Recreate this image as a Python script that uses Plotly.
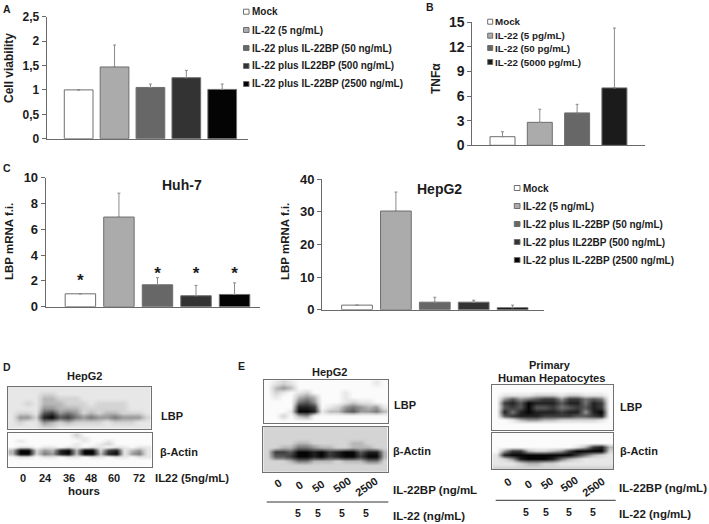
import plotly.graph_objects as go

W, H = 709, 524
FONT = "Liberation Sans"
TXT = "#1c1c1c"

# ---- data ----
cats_a = ["Mock", "IL-22 (5 ng/mL)", "IL-22 plus IL-22BP (50 ng/mL)", "IL-22 plus IL22BP (500 ng/mL)", "IL-22 plus IL-22BP (2500 ng/mL)"]
vals_a = [1.0, 1.47, 1.05, 1.25, 1.01]
errs_a = [0, 0.45, 0.07, 0.15, 0.11]
ticks_a = [0, 0.5, 1, 1.5, 2, 2.5]
ticklabels_a = ["0", "0,5", "1", "1,5", "2", "2,5"]

cats_b = ["Mock", "IL-22 (5 pg/mL)", "IL-22 (50 pg/mL)", "IL-22 (5000 pg/mL)"]
vals_b = [1.05, 2.8, 3.95, 7.0]
errs_b = [0.6, 1.6, 1.05, 7.3]
ticks_b = [0, 3, 6, 9, 12, 15]

cats_c = ["Mock", "IL-22 (5 ng/mL)", "IL-22 plus IL-22BP (50 ng/mL)", "IL-22 plus IL22BP (500 ng/mL)", "IL-22 plus IL-22BP (2500 ng/mL)"]
vals_huh7 = [1.0, 6.95, 1.7, 0.85, 0.95]
errs_huh7 = [0, 1.85, 0.55, 0.8, 0.9]
ticks_huh7 = [0, 2, 4, 6, 8, 10]
star_idx = [0, 2, 3, 4]
star_y = [1.9, 2.45, 2.45, 2.45]

vals_hepg2 = [1.4, 30.2, 2.3, 2.3, 0.6]
errs_hepg2 = [0, 5.8, 1.5, 0.6, 0.8]
ticks_hepg2 = [0, 10, 20, 30, 40]

# blots: darkness 0-9, one string per row, top row first
blot_d_lbp = [
    "111111111111111111",
    "111122111111111111",
    "111133222111111111",
    "112133322212222111",
    "111144333222222111",
    "122167454232332221",
    "144289675454454442",
    "121143232222122211",
    "111122111111111111",
]
blot_d_actin = [
    "000000002000000000",
    "000000001100000000",
    "010000000100100000",
    "000000001001200000",
    "011011011011011011",
    "399243893992781341",
    "399254893993891451",
    "011011011011011011",
    "000000000000000000",
    "000000000000000000",
    "000000000000000000",
]
blot_e1_lbp = [
    "0121000000000010",
    "0343000000000000",
    "0210120000100000",
    "0100343000100000",
    "0000564000121100",
    "0000887012454341",
    "0001998133564453",
    "0020340000000000",
    "0000000000000000",
]
blot_e1_actin = [
    "2222222222222222",
    "2222222222222222",
    "2222222222222222",
    "2222332222233222",
    "2233554332233322",
    "2776998978996883",
    "2667998978997993",
    "2223553332333552",
    "2222222222222222",
    "2222222222222222",
]
blot_e2_lbp = [
    "000000000000000",
    "000000000000000",
    "011112221221110",
    "046456774775650",
    "078698886885870",
    "067696675676870",
    "085898887884890",
    "067888777766780",
    "001344332222210",
    "000000000000000",
    "000000000000000",
]
blot_e2_actin = [
    "000000000000000",
    "000000000000000",
    "000000000000000",
    "000000000013783",
    "047732234799992",
    "189999999975321",
    "124899985321111",
    "111233221111111",
    "222222222222222",
]
lanes_d = ["0", "24", "36", "48", "60", "72"]
lanes_bp = ["0", "0", "50", "500", "2500"]
lanes_il = ["5", "5", "5", "5"]

fills5 = ["#ffffff", "#ababab", "#676767", "#333333", "#040404"]
fills4 = ["#ffffff", "#ababab", "#676767", "#1b1b1b"]
BORDER = "#6e6e6e"
ERR = "#8a8a8a"
AXIS = "#6a6a6a"


def dx(l, r):
    return [l / W, r / W]


def dy(t, b):
    return [1 - b / H, 1 - t / H]


fig = go.Figure()
layout = dict(
    width=W, height=H, margin=dict(l=0, r=0, t=0, b=0, autoexpand=False),
    paper_bgcolor="white", plot_bgcolor="white", showlegend=False,
    font=dict(family=FONT, color=TXT), bargap=0.2,
)
anns, shapes = [], []


def txt(x, y, s, size=10, anchor="left", angle=0, color=TXT):
    anns.append(dict(text="<b>%s</b>" % s, x=x / W, y=1 - y / H, xref="paper", yref="paper",
                     xanchor=anchor, yanchor="middle", showarrow=False, textangle=angle,
                     font=dict(family=FONT, size=size, color=color), borderpad=0, borderwidth=0))


def bars(n, left, right, top, bottom, xr, vals, errs, fills, gap, tickv, tickt, tsize, ymax,
         title, title_x, title_y, tit_size=12):
    k = "" if n == 1 else str(n)
    fig.add_trace(go.Bar(x=list(range(len(vals))), y=vals, width=gap, xaxis="x" + k, yaxis="y" + k,
                         marker=dict(color=fills, line=dict(color=BORDER, width=1)),
                         error_y=dict(type="data", symmetric=False, array=errs, arrayminus=[0] * len(vals),
                                      color=ERR, thickness=1, width=1.5)))
    layout["xaxis" + k] = dict(domain=dx(left, right), range=xr, anchor="y" + k, showgrid=False, zeroline=False,
                               showline=True, linecolor=AXIS, linewidth=1, ticks="", showticklabels=False, fixedrange=True)
    layout["yaxis" + k] = dict(domain=dy(top, bottom), range=[0, ymax], anchor="x" + k, showgrid=False, zeroline=False,
                               showline=True, linecolor=AXIS, linewidth=1, ticks="outside", ticklen=4, tickcolor=AXIS,
                               tickvals=tickv, ticktext=["<b>%s</b>" % t for t in tickt],
                               tickfont=dict(family=FONT, size=tsize, color=TXT), fixedrange=True)
    txt(title_x, title_y, title, tit_size, "center", -90)


bars(1, 46.7, 247.7, 16.7, 138.7, [-0.89, 4.71], vals_a, errs_a, fills5, 0.8, ticks_a, ticklabels_a, 12, 2.5,
     "Cell viability", 9, 68)
bars(2, 472.3, 645, 22.3, 145.3, [-0.81, 3.82], vals_b, errs_b, fills4, 0.67, ticks_b, ticks_b, 14, 15,
     "TNF\u03b1", 436, 79)
bars(3, 45.7, 260, 177.7, 306.7, [-0.9, 4.66], vals_huh7, errs_huh7, fills5, 0.79, ticks_huh7, ticks_huh7, 13, 10,
     "LBP mRNA f.i.", 9, 242, 11.5)
bars(4, 322, 543.7, 179, 309.7, [-0.9, 4.8], vals_hepg2, errs_hepg2, fills5, 0.79, ticks_hepg2, ticks_hepg2, 13, 40,
     "LBP mRNA f.i.", 285, 242, 11.5)

fig.add_trace(go.Scatter(x=star_idx, y=star_y, mode="text", text=["<b>*</b>"] * len(star_idx), xaxis="x3", yaxis="y3",
                         textposition="middle center", textfont=dict(family=FONT, size=17, color=TXT)))

BLOT_SCALE = [[0, "#fbfbfb"], [0.25, "#cfcfcf"], [0.6, "#6a6a6a"], [1, "#050505"]]


def blot(n, rows, left, right, top, bottom):
    k = str(n)
    z = [[int(c) for c in r] for r in rows]
    fig.add_trace(go.Heatmap(z=z, xaxis="x" + k, yaxis="y" + k, zmin=0, zmax=9, zsmooth="best",
                             colorscale=BLOT_SCALE, showscale=False, hoverinfo="skip"))
    layout["xaxis" + k] = dict(domain=dx(left, right), range=[-0.5, len(z[0]) - 0.5], anchor="y" + k, showgrid=False,
                               zeroline=False, showline=True, mirror=True, linecolor="#707070", linewidth=1,
                               ticks="", showticklabels=False, fixedrange=True)
    layout["yaxis" + k] = dict(domain=dy(top, bottom), range=[len(z) - 0.5, -0.5], anchor="x" + k, showgrid=False,
                               zeroline=False, showline=True, mirror=True, linecolor="#707070", linewidth=1,
                               ticks="", showticklabels=False, fixedrange=True)


blot(5, blot_d_lbp, 7.7, 150.7, 386.7, 429)
blot(6, blot_d_actin, 8.3, 151.7, 433.3, 467.3)
blot(7, blot_e1_lbp, 263.7, 387.7, 380.3, 423.3)
blot(8, blot_e1_actin, 263.3, 387.7, 426.7, 472)
blot(9, blot_e2_lbp, 492.3, 613.3, 384.7, 429.7)
blot(10, blot_e2_actin, 492.3, 613.3, 432.7, 469.3)


def legend(labels, fills, xm0, xm1, xt, ys, size):
    for s, f, y in zip(labels, fills, ys):
        shapes.append(dict(type="rect", xref="paper", yref="paper", x0=xm0 / W, x1=xm1 / W,
                           y0=1 - (y + 2.5) / H, y1=1 - (y - 2.5) / H, fillcolor=f,
                           line=dict(color=BORDER, width=1)))
        txt(xt, y, s, size)


legend(cats_a, fills5, 243.5, 249, 251.7, [11.7, 30, 48, 66, 84], 10)
legend(cats_b, fills4, 487.7, 492.7, 495, [21.7, 35.7, 48, 62], 9.8)
legend(cats_c, fills5, 514.3, 520, 522.7, [188, 206, 224, 242, 260], 10)

txt(3, 9, "A", 10.5)
txt(426, 7, "B", 10.5)
txt(3, 168, "C", 10.5)
txt(3, 367, "D", 10.5)
txt(238, 366, "E", 10.5)
txt(181.7, 185, "Huh-7", 14, "center")
txt(439, 189, "HepG2", 14, "center")

# D
txt(84.7, 376, "HepG2", 11, "center")
txt(161, 416, "LBP", 11)
txt(160, 452, "\u03b2-Actin", 11)
for s, x in zip(lanes_d, [23, 45.7, 68.7, 91.3, 114.3, 138.7]):
    txt(x, 477.7, s, 11, "center")
txt(155, 477.7, "IL22 (5ng/mL)", 11.4)
txt(84, 491, "hours", 11.5, "center")

# E, HepG2
txt(329, 371.7, "HepG2", 11, "center")
txt(394, 405, "LBP", 11)
txt(393.3, 451, "\u03b2-Actin", 11)
for s, x, y in zip(lanes_bp, [278.3, 299.3, 318.3, 341.7, 366], [483.3, 485, 486, 485, 486.7]):
    txt(x, y, s, 11, "center", -35)
txt(392.7, 490, "IL-22BP (ng/mL", 11.5)
for s, x in zip(lanes_il, [298.3, 317.7, 341.7, 366]):
    txt(x, 513.3, s, 10.5, "center")
txt(392.7, 515.7, "IL-22 (ng/mL)", 11.5)
shapes.append(dict(type="line", xref="paper", yref="paper", x0=266.7 / W, x1=388.3 / W, y0=1 - 502 / H, y1=1 - 502 / H,
                   line=dict(color="#333333", width=1)))

# E, primary
txt(550, 364.7, "Primary", 11, "center")
txt(551.7, 378.3, "Human Hepatocytes", 11.2, "center")
txt(620.3, 406.7, "LBP", 11)
txt(620, 450.7, "\u03b2-Actin", 11)
for s, x, y in zip(lanes_bp, [507.7, 528.3, 547.3, 569.3, 593.3], [482.3, 484, 483.3, 484, 486.7]):
    txt(x, y, s, 11, "center", -35)
txt(619.3, 488.3, "IL-22BP (ng/mL)", 11.5)
for s, x in zip(lanes_il, [526, 545.7, 569.3, 593.3]):
    txt(x, 511.7, s, 10.5, "center")
txt(619.3, 514, "IL-22 (ng/mL)", 11.5)
shapes.append(dict(type="line", xref="paper", yref="paper", x0=495.7 / W, x1=615.7 / W, y0=1 - 500.3 / H, y1=1 - 500.3 / H,
                   line=dict(color="#333333", width=1)))

layout["annotations"] = anns
layout["shapes"] = shapes
fig.update_layout(**layout)
fig.write_html("out.html", config=dict(displayModeBar=False), post_script="document.body.style.margin='0';")
